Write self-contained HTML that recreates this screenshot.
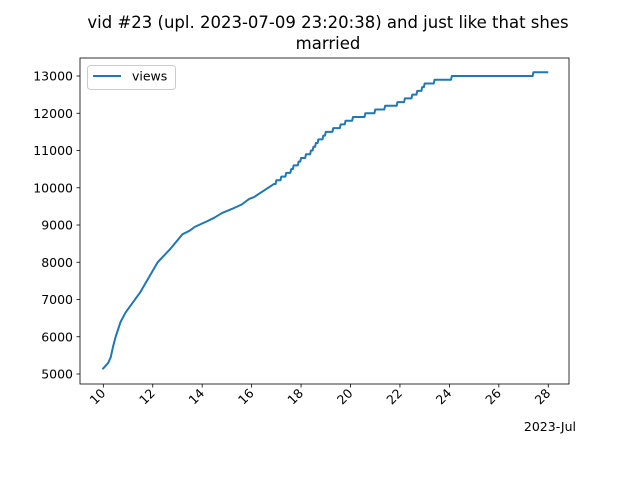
<!DOCTYPE html>
<html><head><meta charset="utf-8"><style>
body{margin:0;background:#fff;}
svg text{font-family:"DejaVu Sans","Liberation Sans",sans-serif;fill:#000;}
</style></head><body>
<svg width="640" height="480" xmlns="http://www.w3.org/2000/svg">
<rect width="640" height="480" fill="#fff"/>
<text x="328" y="28" font-size="16.5" text-anchor="middle">vid #23 (upl. 2023-07-09 23:20:38) and just like that shes</text>
<text x="328" y="49" font-size="16.5" text-anchor="middle">married</text>
<g id="axes"></g>
</svg>
<script>
const days=[9.97,10.2,10.3,10.4,10.5,10.7,10.9,11.5,12.2,12.7,13.2,13.5,13.7,14.2,14.5,14.8,15.2,15.6,15.9,16.1,16.9,
17.0,17.2,17.4,17.6,17.7,17.9,18.0,18.2,18.4,18.5,18.6,18.7,18.9,19.0,19.3,19.6,19.8,20.1,20.6,21.0,21.4,21.9,22.2,22.5,22.7,22.9,23.0,23.4,24.1,27.4,28.0];
const views=[5130,5300,5450,5750,6000,6400,6650,7200,8000,8350,8750,8850,8950,9100,9200,9320,9430,9550,9700,9750,10100,
10200,10300,10400,10500,10600,10700,10800,10900,11000,11100,11200,11300,11400,11500,11600,11700,11800,11900,12000,12100,12200,12300,12400,12500,12600,12700,12800,12900,13000,13100,13100];
const stepStart=21;
const xTicks=[10,12,14,16,18,20,22,24,26,28];
const yTicks=[5000,6000,7000,8000,9000,10000,11000,12000,13000];
const L=80,R=569,T=58,B=384;
function X(d){return 103.3+(d-10)*24.72;}
function Y(v){return 374-(v-5000)*0.03725;}
const ns="http://www.w3.org/2000/svg";
const g=document.getElementById('axes');
function mk(t,a,p){const e=document.createElementNS(ns,t);for(const k in a)e.setAttribute(k,a[k]);(p||g).appendChild(e);return e;}
let pts=[];
for(let i=0;i<days.length;i++){
  if(i>=stepStart){pts.push([X(days[i])-0.8,Y(views[i-1])]);}
  pts.push([X(days[i]),Y(views[i])]);
}
const line=mk('polyline',{points:pts.map(p=>p.join(',')).join(' '),fill:'none',stroke:'#1f77b4','stroke-width':2,'stroke-linejoin':'round'});


const frame=mk('rect',{x:L,y:T,width:R-L,height:B-T,fill:'none',stroke:'#000','stroke-width':0.8});


xTicks.forEach(d=>{
  const x=X(d);
  mk('line',{x1:x,y1:B,x2:x,y2:B+3.5,stroke:'#000','stroke-width':0.8});
  const t=mk('text',{x:x+3,y:B+10,'font-size':12.5,'text-anchor':'end',transform:`rotate(-45 ${x+3} ${B+10})`});
  t.textContent=d;
  
  
});
yTicks.forEach(v=>{
  const y=Y(v);
  mk('line',{x1:L,y1:y,x2:L-3.5,y2:y,stroke:'#000','stroke-width':0.8});
  const t=mk('text',{x:L-7,y:y+4.5,'font-size':12.5,'text-anchor':'end'});
  t.textContent=v;
  
  
});
const off=mk('text',{x:576,y:431,'font-size':12.5,'text-anchor':'end'});
off.textContent='2023-Jul';


const lg=mk('g',{});


mk('rect',{x:87.5,y:65.5,width:88,height:24,rx:3,fill:'#fff',stroke:'#ccc'},lg);
mk('line',{x1:93,y1:76,x2:121,y2:76,stroke:'#1f77b4','stroke-width':2},lg);
const lt=mk('text',{x:132,y:80.5,'font-size':12.5},lg);
lt.textContent='views';


</script>
</body></html>
